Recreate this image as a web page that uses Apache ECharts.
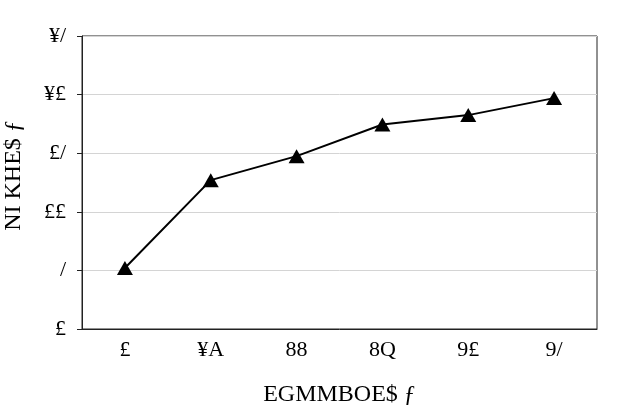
<!DOCTYPE html>
<html>
<head>
<meta charset="utf-8">
<script src="https://cdn.jsdelivr.net/npm/echarts@6/dist/echarts.min.js"></script>
<style>
  html, body { margin: 0; padding: 0; background: #fff; }
  #chart { width: 617px; height: 412px; }
</style>
</head>
<body>
<div id="chart"></div>
<script>
// categories and values
const categories = ["£", "¥A", "88", "8Q", "9£", "9/"];
const values = [1.04, 2.54, 2.95, 3.49, 3.65, 3.94];
const yTickLabels = ["£", "/", "££", "£/", "¥£", "¥/"];
const xTitle = "EGMMBOE$ ƒ";
const yTitle = "NI KHE$ ƒ";

const font = "'Liberation Serif', 'DejaVu Serif', serif";

const chart = echarts.init(document.getElementById("chart"));

chart.setOption({
  backgroundColor: "#fff",
  animation: false,
  grid: {
    left: 82,
    right: 20,
    top: 36,
    bottom: 83,
    outerBoundsMode: "none",
    show: true,
    borderColor: "#222",
    borderWidth: 1,
  },
  xAxis: {
    type: "category",
    data: categories,
    boundaryGap: true,
    name: xTitle,
    nameLocation: "middle",
    nameGap: 54,
    nameTextStyle: { fontFamily: font, fontSize: 24, color: "#000" },
    axisLine: { lineStyle: { color: "#222", width: 1 } },
    axisTick: { inside: true, length: 6, lineStyle: { color: "#222" } },
    axisLabel: { fontFamily: font, fontSize: 22, color: "#000", margin: 10 },
  },
  yAxis: {
    type: "value",
    min: 0,
    max: 5,
    interval: 1,
    name: yTitle,
    nameLocation: "middle",
    nameGap: 56,
    nameTextStyle: { fontFamily: font, fontSize: 24, color: "#000", padding: [0, 0, 0, 14] },
    axisLine: { show: true, lineStyle: { color: "#222", width: 1 } },
    axisTick: { show: true, length: 5, lineStyle: { color: "#222" } },
    axisLabel: {
      fontFamily: font,
      fontSize: 22,
      color: "#000",
      margin: 16,
      formatter: (v) => yTickLabels[Math.round(v)],
    },
    splitLine: { lineStyle: { color: "#d4d4d4", width: 1 } },
  },
  series: [
    {
      type: "line",
      data: values,
      symbol: "triangle",
      symbolSize: [16, 14],
      lineStyle: { color: "#000", width: 2 },
      itemStyle: { color: "#000" },
    },
  ],
});
</script>
</body>
</html>
